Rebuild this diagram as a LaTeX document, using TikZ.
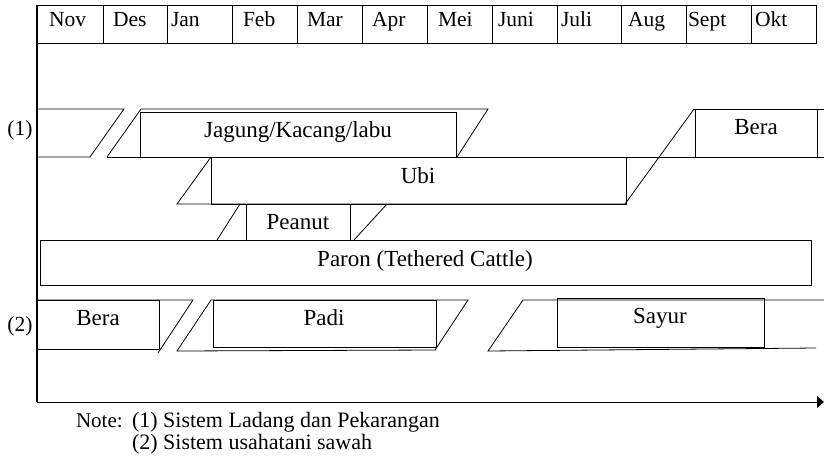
\documentclass[tikz,border=0pt]{standalone}
\usepackage{fontspec}
\setmainfont{Liberation Serif}
\usetikzlibrary{arrows.meta}
\begin{document}
\begin{tikzpicture}[x=1pt,y=-1pt,line width=0.8pt,
  every node/.style={font=\fontsize{23}{27}\selectfont,inner sep=0pt,outer sep=0pt},
  cropbox/.style={draw,rectangle,anchor=north west},
  lbl/.style={anchor=base},
  mlbl/.style={anchor=base west,font=\fontsize{21.5}{26}\selectfont},
  nlbl/.style={anchor=base west,font=\fontsize{22}{26}\selectfont}]
\useasboundingbox (0,0) rectangle (824,458);
% header
\draw (37,5) -- (816,5) -- (816,43) -- (37,43);
\foreach \x in {103,167,232,297,362,427,492,557,621,686,751}
  \draw (\x,5) -- (\x,43);
\node[mlbl] (m1) at (49,26) {Nov};
\node[mlbl] (m2) at (113,26) {Des};
\node[mlbl] (m3) at (171,26) {Jan};
\node[mlbl] (m4) at (243,26) {Feb};
\node[mlbl] (m5) at (307,26) {Mar};
\node[mlbl] (m6) at (372,26) {Apr};
\node[mlbl] (m7) at (438,26) {Mei};
\node[mlbl] (m8) at (498,26) {Juni};
\node[mlbl] (m9) at (561,26) {Juli};
\node[mlbl] (m10) at (628,26) {Aug};
\node[mlbl] (m11) at (688,26) {Sept};
\node[mlbl] (m12) at (755,26) {Okt};
% axes
\coordinate (o) at (37,402);
\coordinate (top) at (37,5);
\coordinate (xend) at (824,402);
\draw[line width=1.2pt] (top) -- (o);
\draw[line width=1pt,-{Triangle[length=7pt,width=12pt]}] (o) -- (xend);
% row labels
\node[lbl,font=\fontsize{21.5}{26}\selectfont] (r1) at (20,135) {(1)};
\node[lbl,font=\fontsize{21.5}{26}\selectfont] (r2) at (20,331) {(2)};
% row 1
\draw (37,109) -- (124,109) -- (90,157) -- (37,157);
\draw (107,157) -- (141,109) -- (488,109) -- (457,157);
\draw (107,157) -- (824,157);
\node[cropbox,minimum width=316pt,minimum height=45pt] (jagung) at (140,112) {};
\node[lbl] (tjagung) at (298,137) {Jagung/Kacang/labu};
\draw (694,109) -- (824,109);
\draw (694,109) -- (625,204);
\node[cropbox,minimum width=122pt,minimum height=48pt] (bera1) at (695,109) {};
\node[lbl] (tbera1) at (756,134) {Bera};
\draw (211,157) -- (177,204) -- (626,204);
\node[cropbox,minimum width=415pt,minimum height=47pt] (ubi) at (211,157) {};
\node[lbl] (tubi) at (418,183) {Ubi};
\draw (240,204) -- (217,240);
\draw (387,204) -- (354,240);
\node[cropbox,minimum width=104pt,minimum height=36pt] (peanut) at (246,204) {};
\node[lbl] (tpeanut) at (298,229) {Peanut};
\node[cropbox,minimum width=771pt,minimum height=45pt] (paron) at (40,240) {};
\node[lbl] (tparon) at (425,266) {Paron (Tethered Cattle)};
% row 2
\draw (37,300) -- (193,300) -- (158,353);
\node[cropbox,minimum width=122pt,minimum height=49pt] (bera2) at (37,300) {};
\node[lbl] (tbera2) at (98,325) {Bera};
\draw (436,350) -- (177,351) -- (211,300) -- (468,300) -- (435,350);
\node[cropbox,minimum width=223pt,minimum height=47pt] (padi) at (213,300) {};
\node[lbl] (tpadi) at (324,325) {Padi};
\draw (816,348) -- (488,351) -- (523,300) -- (824,300);
\node[cropbox,minimum width=207pt,minimum height=49pt] (sayur) at (557,298) {};
\node[lbl] (tsayur) at (660,323) {Sayur};
% note
\node[nlbl,font=\fontsize{21}{26}\selectfont] (note) at (76,427) {Note:};
\node[nlbl] (n1) at (132,427) {(1) Sistem Ladang dan Pekarangan};
\node[nlbl] (n2) at (132,449) {(2) Sistem usahatani sawah};
\end{tikzpicture}
\end{document}
